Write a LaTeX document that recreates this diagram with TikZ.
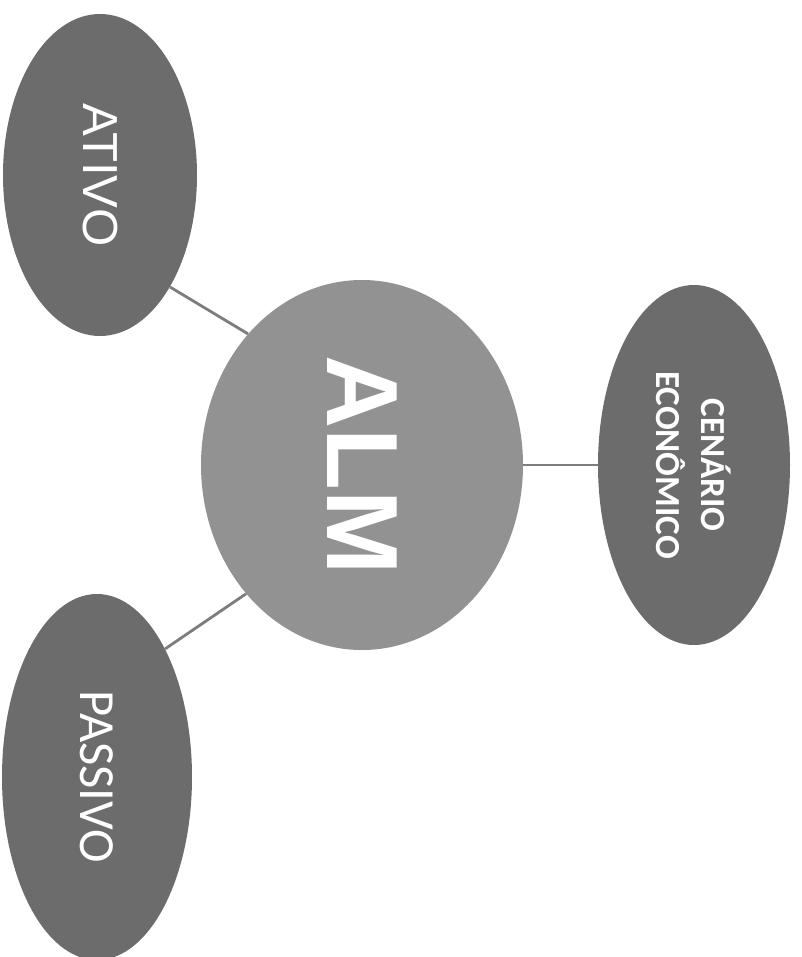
\documentclass[tikz,border=0pt]{standalone}
\usepackage{fontspec}
\setsansfont{Liberation Sans}
\newfontfamily\calfont{Carlito}
\usetikzlibrary{shapes.geometric}
\definecolor{darkoval}{RGB}{108,108,108}
\definecolor{lightoval}{RGB}{146,146,146}
\definecolor{linkgray}{RGB}{125,125,125}
\tikzset{
  oval/.style={ellipse, fill=darkoval, text=white, inner sep=0pt, rotate=-90, align=center},
  link/.style={draw=linkgray, line width=2pt}
}
\begin{document}
\begin{tikzpicture}
    \useasboundingbox (0,0) rectangle (20.025,-23.925);
    \begin{scope}
    \clip (0,0) rectangle (20.025,-23.925);

    % Centre
    \node[oval, fill=lightoval, minimum width=9.25cm, minimum height=8.05cm,
          font=\sffamily\bfseries\fontsize{72}{80}\selectfont] (alm) at (9.05,-11.625) {ALM};

    % Outer ovals
    \node[oval, minimum width=8.05cm, minimum height=4.85cm,
          font=\sffamily\fontsize{35}{40}\selectfont] (ativo) at (2.5,-4.375) {ATIVO};
    \node[oval, minimum width=9.15cm, minimum height=4.75cm,
          font=\calfont\fontsize{36}{40}\selectfont] (passivo) at (2.425,-19.425) {PASSIVO};
    \node[oval, minimum width=9.0cm, minimum height=4.8cm,
          font=\calfont\bfseries\fontsize{25}{32}\selectfont] (cenario) at (17.35,-11.625) {CENÁRIO\\ECONÔMICO};

    % Links (anchors turned by the -90 rotation)
    \draw[link] (ativo.32) -- (alm.221.8);
    \draw[link] (passivo.152) -- (alm.318.7);
    \draw[link] (alm.north) -- (cenario.south);
    \end{scope}
\end{tikzpicture}
\end{document}
